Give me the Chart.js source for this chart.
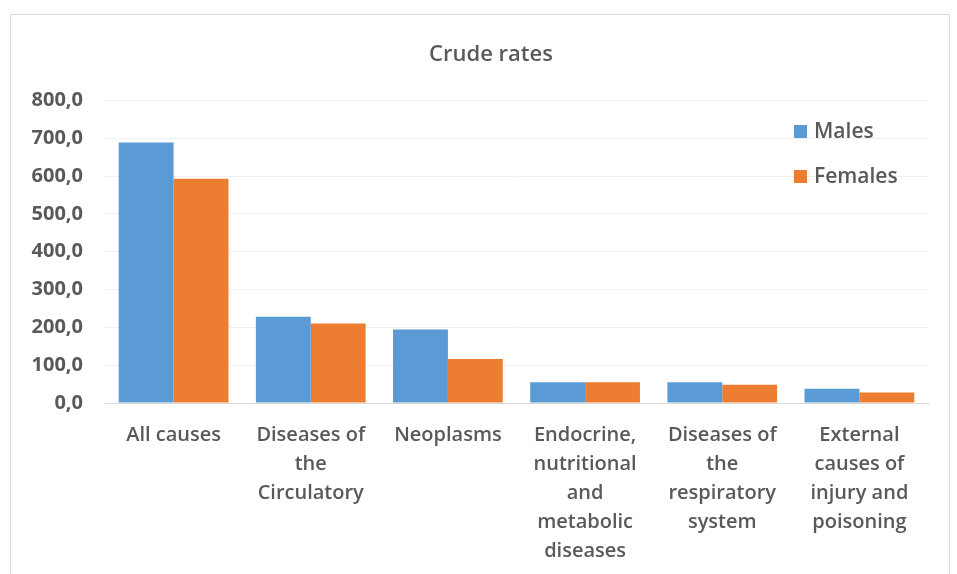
<!DOCTYPE html>
<html>
<head>
<meta charset="utf-8">
<script src="https://cdn.jsdelivr.net/npm/chart.js@4.4.0/dist/chart.umd.min.js"></script>
<style>
  body { margin: 0; background: #fff; }
  .frame { position: absolute; left: 10px; top: 14px; width: 940px; height: 600px; border: 1px solid #d9d9d9; box-sizing: border-box; }
  .wrap { position: absolute; left: 0; top: 0; width: 957px; height: 574px; }
</style>
</head>
<body>
<div class="frame"></div>
<div class="wrap"><canvas id="chart" width="957" height="574"></canvas></div>
<script>
// data
const categories = [
    ["All causes"],
    ["Diseases of", "the", "Circulatory"],
    ["Neoplasms"],
    ["Endocrine,", "nutritional", "and", "metabolic", "diseases"],
    ["Diseases of", "the", "respiratory", "system"],
    ["External", "causes of", "injury and", "poisoning"]
];
const males = [689, 228, 194, 55, 55, 38];
const females = [593, 210, 116, 55, 48, 28];
const yTicks = [0, 100, 200, 300, 400, 500, 600, 700, 800];

const textColor = "#595959";
const fontFamily = "'Open Sans', 'Noto Sans', sans-serif";

// legend drawn inside the plot, top right, one item per line
const innerLegend = {
    id: "innerLegend",
    afterLayout(chart) {
        // let the y labels use the space left of the title padding
        chart.scales.y.left = 0;
    },
    afterDraw(chart) {
        const ctx = chart.ctx;
        ctx.save();
        ctx.font = "600 21px " + fontFamily;
        ctx.textBaseline = "middle";
        chart.data.datasets.forEach((ds, i) => {
            const y = 131 + i * 45;
            ctx.fillStyle = ds.backgroundColor;
            ctx.fillRect(794, y - 6, 13, 13);
            ctx.fillStyle = textColor;
            ctx.fillText(ds.label, 814, y + 1);
        });
        ctx.restore();
    }
};

Chart.register(innerLegend);

const ctx = document.getElementById("chart");
new Chart(ctx, {
    type: "bar",
    data: {
        labels: categories,
        datasets: [
            { label: "Males", data: males, backgroundColor: "#5B9BD5", categoryPercentage: 0.8, barPercentage: 1.0 },
            { label: "Females", data: females, backgroundColor: "#ED7D31", categoryPercentage: 0.8, barPercentage: 1.0 }
        ]
    },
    options: {
        responsive: false,
        animation: false,
        devicePixelRatio: 1,
        layout: { padding: { top: 42, right: 29, left: 54, bottom: 0 } },
        plugins: {
            legend: { display: false },
            tooltip: { enabled: false },
            title: {
                display: true,
                text: "Crude rates",
                color: textColor,
                font: { family: fontFamily, size: 22, weight: "600", lineHeight: 1.2 },
                padding: { top: 0, bottom: 32 }
            }
        },
        scales: {
            x: {
                grid: { display: false, drawTicks: false },
                border: { color: "#d9d9d9", width: 1 },
                ticks: {
                    color: textColor,
                    font: { family: fontFamily, size: 20, weight: "600", lineHeight: 1.45 },
                    padding: 18,
                    maxRotation: 0,
                    autoSkip: false
                },
                afterFit(scale) { scale.height = 171; }
            },
            y: {
                min: 0,
                max: 800,
                afterBuildTicks(scale) { scale.ticks = yTicks.map(v => ({ value: v })); },
                grid: { color: "#efefef", drawTicks: false },
                border: { display: false },
                ticks: {
                    color: textColor,
                    font: { family: fontFamily, size: 20, weight: "700" },
                    padding: 22,
                    callback: v => v.toFixed(1).replace(".", ",")
                },
                afterFit(scale) { scale.width = 51; }
            }
        }
    }
});
</script>
</body>
</html>
